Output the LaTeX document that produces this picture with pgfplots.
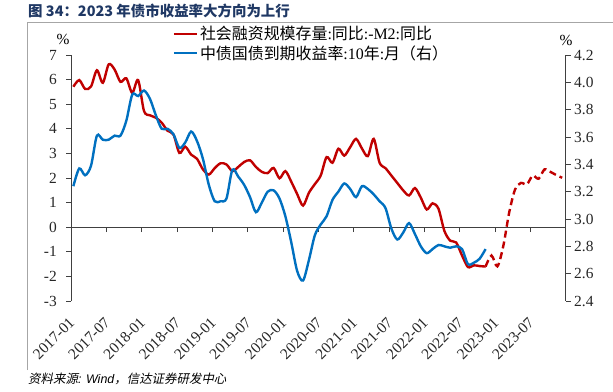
\documentclass[border=0pt]{standalone}
\usepackage{pgfplots}
\pgfplotsset{compat=1.18}
\usepackage{pgfplotstable}
\usepackage{fontspec}
\setmainfont{Liberation Serif}
\newfontfamily\cjk{Noto Sans CJK SC}
\newfontfamily\cjkit{Noto Sans CJK SC}[FakeSlant=0.2]
\newfontfamily\sfit{Liberation Sans}
\definecolor{myred}{RGB}{192,0,0}
\definecolor{myblue}{RGB}{0,112,192}
\definecolor{titleblue}{RGB}{31,56,100}

\pgfplotstableread{
m v
0 5.71
1 5.98
2 5.62
3 5.72
4 6.38
5 5.87
6 6.62
7 6.41
8 5.91
9 6.05
10 5.46
11 5.98
12 4.72
13 4.55
14 4.45
15 4.25
16 3.92
17 3.77
18 3.02
19 3.27
20 2.95
21 2.78
22 2.35
23 2.14
24 2.40
25 2.60
26 2.55
27 2.28
28 2.45
29 2.65
30 2.72
31 2.45
32 2.25
33 2.20
34 2.41
35 1.99
36 2.28
37 1.85
38 1.35
39 0.88
40 1.40
41 1.75
42 2.10
43 2.85
44 2.62
45 3.19
46 2.91
47 3.25
48 3.59
49 3.20
50 2.89
51 3.59
52 2.62
53 2.40
54 2.10
55 1.80
56 1.50
57 1.29
58 1.59
59 1.20
60 0.72
61 0.97
62 0.75
63 -0.15
64 -0.55
65 -0.62
66 -1.15
67 -1.62
68 -1.55
69 -1.58
70 -1.60
}\redsolid

\pgfplotstableread{
m v
70 -1.60
71 -1.15
72 -1.59
73 -0.77
74 0.59
75 1.53
76 1.80
77 1.74
78 2.10
79 1.97
80 2.35
81 2.25
82 2.12
83 2.01
}\reddash

\pgfplotstableread{
m r
0 3.24
1 3.37
2 3.32
3 3.39
4 3.61
5 3.58
6 3.58
7 3.61
8 3.61
9 3.72
10 3.91
11 3.90
12 3.94
13 3.88
14 3.76
15 3.66
16 3.66
17 3.62
18 3.52
19 3.56
20 3.64
21 3.57
22 3.44
23 3.25
24 3.13
25 3.13
26 3.15
27 3.36
28 3.31
29 3.25
30 3.16
31 3.05
32 3.12
33 3.20
34 3.21
35 3.15
36 3.02
37 2.83
38 2.62
39 2.55
40 2.70
41 2.88
42 2.96
43 3.02
44 3.14
45 3.20
46 3.26
47 3.22
48 3.16
49 3.24
50 3.22
51 3.18
52 3.13
53 3.08
54 2.93
55 2.85
56 2.90
57 2.97
58 2.89
59 2.80
60 2.75
61 2.78
62 2.81
63 2.80
64 2.79
65 2.80
66 2.78
67 2.67
68 2.68
69 2.71
70 2.78
}\blueline

\begin{document}
\begin{tikzpicture}
\path[use as bounding box] (0,0) rectangle (613bp,-392bp);
\draw[black!35, line width=0.8bp] (27bp,-370bp) -- (27bp,-22bp) -- (613bp,-22bp);
\node[anchor=west, inner sep=0pt, text=titleblue, font=\cjk\bfseries\fontsize{14.5}{16}\selectfont] at (28bp,-11bp) {图 34：2023 年债市收益率大方向为上行};
\node[anchor=west, inner sep=0pt, font=\fontsize{12.5}{14}\selectfont] at (28bp,-379bp) {{\cjkit 资料来源}{\sfit\itshape : Wind}{\cjkit ，信达证券研发中心}};
\node[font=\fontsize{15.5}{17}\selectfont, inner sep=0pt] at (63bp,-39bp) {\%};
\node[font=\fontsize{15.5}{17}\selectfont, inner sep=0pt] at (566bp,-40bp) {\%};

% zero line (bottom of an axis covering 0..7) with its tick marks
\begin{axis}[
  width=494.7bp, height=172.2bp, scale only axis,
  at={(71bp,-227.2bp)}, anchor=south west,
  xmin=0, xmax=84, ymin=0, ymax=7,
  axis x line*=bottom, axis y line=none,
  x axis line style={black!75, line width=0.8bp},
  xtick={0,6,...,84}, xticklabels={},
  tick align=outside,
  major tick length=5bp,
  tick style={black!75, line width=0.8bp},
]
\end{axis}

\begin{axis}[
  width=494.7bp, height=246bp, scale only axis,
  at={(71bp,-301bp)}, anchor=south west,
  xmin=0, xmax=84, ymin=-3, ymax=7,
  axis y line*=left, axis x line*=bottom,
  x axis line style={draw=none},
  y axis line style={black!75, line width=0.8bp},
  xtick={0,6,...,78},
  xticklabels={2017-01,2017-07,2018-01,2018-07,2019-01,2019-07,2020-01,2020-07,2021-01,2021-07,2022-01,2022-07,2023-01,2023-07},
  major x tick style={draw=none},
  ytick={-3,-2,...,7},
  tick align=outside,
  major tick length=5bp,
  tick style={black!75, line width=0.8bp},
  tick label style={font=\fontsize{15.5}{18}\selectfont, text=black!85},
  /pgf/number format/assume math mode=true,
  xticklabel style={xshift=1bp, yshift=-14bp, rotate=45, anchor=east, inner sep=0pt},
  yticklabel style={anchor=east, inner sep=0pt, xshift=-9bp},
  clip=false,
]
\addplot[myred, line width=2.4bp, smooth, tension=0.5] table[x expr=\thisrow{m}+0.4, y=v] {\redsolid};
\addplot[myred, line width=2.4bp, smooth, tension=0.5, dash pattern=on 7bp off 4bp] table[x expr=\thisrow{m}+0.4, y=v] {\reddash};
\end{axis}

\begin{axis}[
  width=494.7bp, height=246bp, scale only axis,
  at={(71bp,-301bp)}, anchor=south west,
  xmin=0, xmax=84, ymin=2.4, ymax=4.2,
  axis y line*=right, axis x line=none,
  y axis line style={black!75, line width=0.8bp},
  ytick={2.4,2.6,2.8,3.0,3.2,3.4,3.6,3.8,4.0,4.2},
  tick align=outside,
  major tick length=5bp,
  tick style={black!75, line width=0.8bp},
  tick label style={font=\fontsize{15.5}{18}\selectfont, text=black!85},
  /pgf/number format/assume math mode=true,
  yticklabel style={/pgf/number format/.cd, fixed, fixed zerofill, precision=1},
  legend style={draw=none, fill=none, at={(0.205,1.125)}, anchor=north west,
    font=\fontsize{16}{18}\selectfont, row sep=0bp, inner sep=0bp},
  legend cell align=left,
  legend image code/.code={\draw[#1] (0bp,0bp) -- (23bp,0bp);},
]
\addlegendimage{myred, line width=2.4bp}
\addlegendentry{{\cjk 社会融资规模存量}:{\cjk 同比}:-M2:{\cjk 同比}}
\addplot[myblue, line width=2.4bp, smooth, tension=0.5] table[x expr=\thisrow{m}+0.4, y=r] {\blueline};
\addlegendentry{{\cjk 中债国债到期收益率}:10{\cjk 年}:{\cjk 月（右）}}
\end{axis}
\end{tikzpicture}
\end{document}
